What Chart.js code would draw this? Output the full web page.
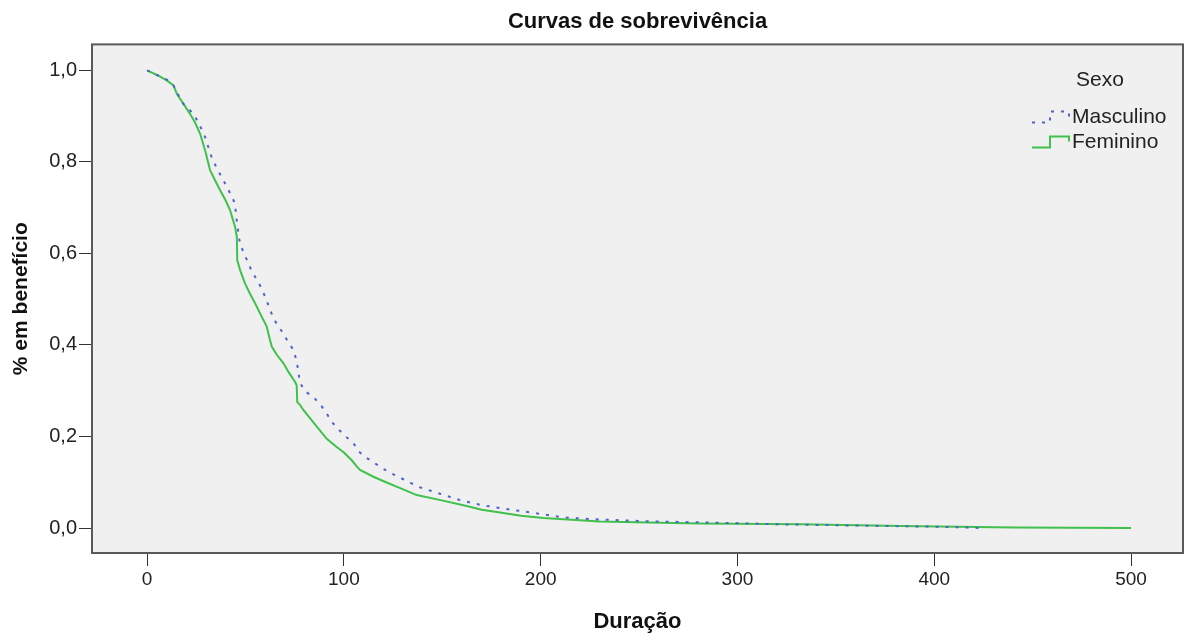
<!DOCTYPE html>
<html>
<head>
<meta charset="utf-8">
<script src="https://cdn.jsdelivr.net/npm/chart.js@4/dist/chart.umd.min.js"></script>
<style>
  html, body { margin: 0; padding: 0; background: #fff; }
  #wrap { width: 1186px; height: 635px; }
</style>
</head>
<body>
<div id="wrap"><canvas id="survChart" width="1186" height="635"></canvas></div>
<script>
// Kaplan-Meier curves
const maleX = [0, 5, 10, 13.4, 16, 18.4, 21.8, 24.9, 27.4, 29.6, 31.2, 32.9, 35.1, 37.6, 40.1, 42.5, 44.7, 45.2, 46.1, 46.9, 48.6, 50.7, 53, 55.4, 57.9, 60, 62, 63.9, 66.4, 69.3, 71.8, 74.4, 76.1, 76.9, 77.7, 80, 85, 88.2, 91.3, 93.8, 97.4, 101.1, 104.5, 107.4, 110.8, 115, 119.3, 123.5, 128.6, 137.9, 148, 159, 170, 182, 198, 211.5, 228.5, 255.6, 289.5, 323.3, 365.7, 399.6, 425];
const maleY = [1.0, 0.99, 0.98, 0.967, 0.945, 0.927, 0.913, 0.895, 0.874, 0.853, 0.831, 0.809, 0.789, 0.769, 0.749, 0.729, 0.709, 0.683, 0.654, 0.629, 0.606, 0.586, 0.563, 0.545, 0.526, 0.505, 0.483, 0.461, 0.442, 0.425, 0.405, 0.389, 0.363, 0.339, 0.318, 0.300, 0.284, 0.269, 0.250, 0.232, 0.215, 0.199, 0.188, 0.168, 0.155, 0.144, 0.131, 0.121, 0.110, 0.090, 0.076, 0.061, 0.050, 0.042, 0.032, 0.023, 0.019, 0.0146, 0.0116, 0.008, 0.005, 0.003, 0.0];

const femaleX = [0, 5, 10, 13.4, 15.1, 18, 21.8, 24.5, 26.9, 29.5, 32, 34.5, 37.1, 40, 42.2, 44.7, 45.6, 45.8, 47.3, 49.8, 52.3, 55, 57.4, 60.8, 62.5, 63.4, 66, 69.3, 72, 75.2, 76, 76.3, 77.7, 79.4, 85, 91.3, 96, 100, 104, 106.6, 108.2, 115, 122, 128.6, 137, 148, 162.4, 168, 170, 179.4, 190, 201.4, 230, 255, 281, 332, 382.6, 441, 500];
const femaleY = [1.0, 0.99, 0.978, 0.967, 0.949, 0.93, 0.905, 0.885, 0.862, 0.825, 0.782, 0.76, 0.738, 0.715, 0.694, 0.658, 0.636, 0.585, 0.563, 0.534, 0.512, 0.49, 0.469, 0.44, 0.41, 0.396, 0.378, 0.36, 0.34, 0.319, 0.312, 0.275, 0.269, 0.258, 0.228, 0.195, 0.178, 0.165, 0.148, 0.134, 0.127, 0.112, 0.099, 0.087, 0.072, 0.062, 0.048, 0.042, 0.04, 0.034, 0.027, 0.022, 0.0145, 0.012, 0.010, 0.008, 0.0045, 0.001, 0.0];

const seriesNames = ['Masculino', 'Feminino'];
const legendTitle = 'Sexo';
const xTicks = [0, 100, 200, 300, 400, 500];
const yTicks = [0, 0.2, 0.4, 0.6, 0.8, 1.0];

const maleColor = '#4f63c9';
const femaleColor = '#3fc14c';
const textColor = '#222';
const fontFamily = '"Liberation Sans", Arial, sans-serif';

function toPoints(xs, ys) {
    return xs.map((x, i) => ({ x: x, y: ys[i] }));
}

// Plot panel background and frame
const plotBox = {
    id: 'plotBox',
    beforeDraw(chart) {
        const { ctx, chartArea: a } = chart;
        ctx.save();
        ctx.fillStyle = '#f0f0f0';
        ctx.fillRect(a.left, a.top, a.right - a.left, a.bottom - a.top);
        ctx.restore();
    },
    afterDraw(chart) {
        const { ctx, chartArea: a } = chart;
        ctx.save();
        ctx.strokeStyle = '#5a5a5a';
        ctx.lineWidth = 2;
        ctx.strokeRect(a.left, a.top, a.right - a.left, a.bottom - a.top);
        ctx.restore();
    }
};

// Legend sits inside the panel, top right, with step-shaped symbols
const stepLegend = {
    id: 'stepLegend',
    afterDraw(chart) {
        const { ctx, chartArea: a } = chart;
        const x0 = a.right - 151;
        ctx.save();
        ctx.font = '21px ' + fontFamily;
        ctx.fillStyle = textColor;
        ctx.textBaseline = 'middle';
        ctx.textAlign = 'center';
        ctx.fillText(legendTitle, x0 + 68, a.top + 36);

        const rows = [a.top + 73, a.top + 98];
        chart.data.datasets.forEach((ds, i) => {
            const y = rows[i];
            ctx.strokeStyle = ds.borderColor;
            ctx.lineWidth = 2;
            ctx.setLineDash(ds.borderDash || []);
            ctx.beginPath();
            ctx.moveTo(x0, y + 5);
            ctx.lineTo(x0 + 18, y + 5);
            ctx.lineTo(x0 + 18, y - 6);
            ctx.lineTo(x0 + 37, y - 6);
            ctx.lineTo(x0 + 37, y - 1);
            ctx.stroke();
            ctx.setLineDash([]);
            ctx.textAlign = 'left';
            ctx.fillStyle = textColor;
            ctx.fillText(ds.label, x0 + 40, y);
        });
        ctx.restore();
    }
};

const ctx = document.getElementById('survChart').getContext('2d');
new Chart(ctx, {
    type: 'line',
    data: {
        datasets: [{
            label: seriesNames[0],
            data: toPoints(maleX, maleY),
            borderColor: maleColor,
            borderWidth: 2,
            borderDash: [3, 7],
            pointRadius: 0,
            tension: 0,
            fill: false
        }, {
            label: seriesNames[1],
            data: toPoints(femaleX, femaleY),
            borderColor: femaleColor,
            borderWidth: 2,
            pointRadius: 0,
            tension: 0,
            fill: false
        }]
    },
    options: {
        responsive: false,
        animation: false,
        layout: { padding: { left: 0, right: 3, top: 0, bottom: 0 } },
        plugins: {
            legend: { display: false },
            tooltip: { enabled: false },
            title: {
                display: true,
                text: 'Curvas de sobrevivência',
                fullSize: false,
                color: '#111',
                font: { family: fontFamily, size: 22, weight: 'bold', lineHeight: 1.2 },
                padding: { top: 9, bottom: 9 }
            }
        },
        scales: {
            x: {
                type: 'linear',
                min: -28,
                max: 526.4,
                afterBuildTicks: scale => { scale.ticks = xTicks.map(v => ({ value: v })); },
                afterFit: scale => { scale.height = 82; },
                border: { display: false },
                grid: { drawOnChartArea: false, drawTicks: true, tickLength: 13, tickColor: '#333', tickWidth: 1 },
                ticks: {
                    color: textColor,
                    font: { family: fontFamily, size: 19 },
                    padding: 2,
                    maxRotation: 0,
                    callback: v => String(v)
                },
                title: {
                    display: true,
                    text: 'Duração',
                    color: '#111',
                    font: { family: fontFamily, size: 22, weight: 'bold', lineHeight: 1.2 },
                    padding: { top: 0, bottom: 0 }
                }
            },
            y: {
                type: 'linear',
                min: -0.0546,
                max: 1.0568,
                afterBuildTicks: scale => { scale.ticks = yTicks.map(v => ({ value: v })); },
                afterFit: scale => { scale.width = 92; },
                border: { display: false },
                grid: { drawOnChartArea: false, drawTicks: true, tickLength: 13, tickColor: '#333', tickWidth: 1 },
                ticks: {
                    color: textColor,
                    font: { family: fontFamily, size: 20 },
                    padding: 2,
                    callback: v => v.toFixed(1).replace('.', ',')
                },
                title: {
                    display: true,
                    text: '% em benefício',
                    color: '#111',
                    font: { family: fontFamily, size: 21, weight: 'bold', lineHeight: 1.2 },
                    padding: { top: 9, bottom: 0 }
                }
            }
        }
    },
    plugins: [plotBox, stepLegend]
});
</script>
</body>
</html>
